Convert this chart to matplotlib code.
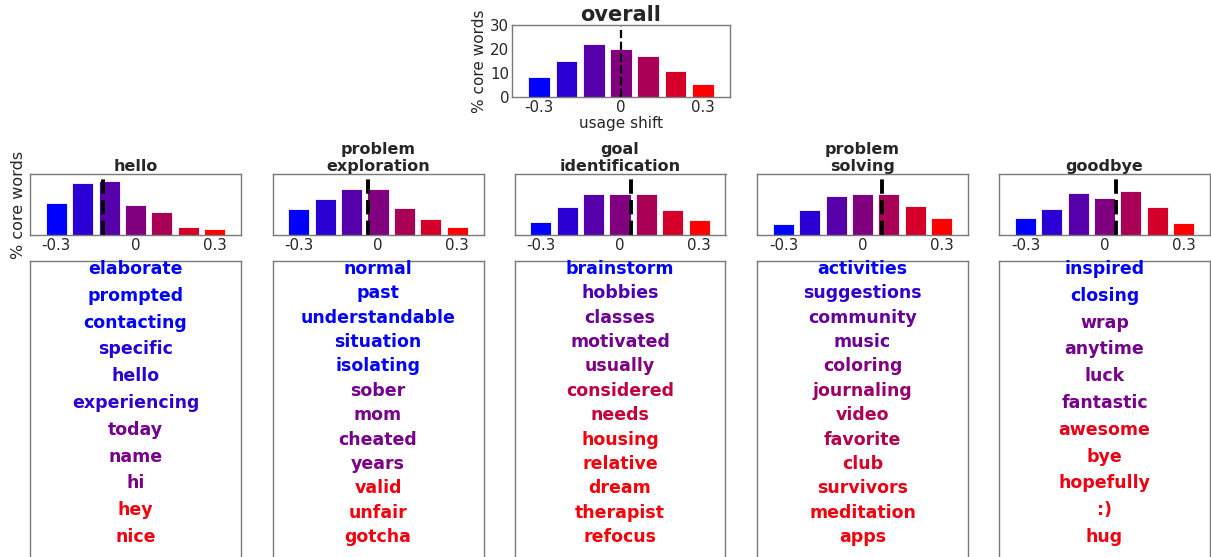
import matplotlib
matplotlib.use("Agg")
import matplotlib.pyplot as plt
import numpy as np

# ---------------- data ----------------
bin_centers = [-0.3, -0.2, -0.1, 0.0, 0.1, 0.2, 0.3]
tick_positions = [-0.3, 0.0, 0.3]
tick_labels = ["-0.3", "0", "0.3"]

overall_pct = [8.5, 15.2, 22.2, 20.1, 17.0, 11.0, 5.5]
overall_mean = 0.0

stage_titles = ["hello", "problem\nexploration", "goal\nidentification", "problem\nsolving", "goodbye"]

hello_pct = [15.9, 25.8, 26.7, 14.7, 11.4, 3.9, 2.8]
exploration_pct = [13.0, 17.6, 22.8, 22.6, 13.4, 7.7, 3.9]
goal_pct = [6.2, 13.6, 20.4, 20.0, 20.0, 12.4, 7.4]
solving_pct = [5.2, 12.4, 19.4, 20.3, 20.3, 14.4, 8.2]
goodbye_pct = [8.2, 12.7, 20.6, 18.3, 21.8, 13.6, 6.0]
stage_pcts = [hello_pct, exploration_pct, goal_pct, solving_pct, goodbye_pct]

stage_means = [-0.123, -0.038, 0.041, 0.075, 0.042]

hello_words = ["elaborate", "prompted", "contacting", "specific", "hello", "experiencing",
               "today", "name", "hi", "hey", "nice"]
hello_shifts = [-0.30, -0.30, -0.30, -0.21, -0.20, -0.19, -0.03, -0.02, -0.01, 0.27, 0.27]

exploration_words = ["normal", "past", "understandable", "situation", "isolating", "sober",
                     "mom", "cheated", "years", "valid", "unfair", "gotcha"]
exploration_shifts = [-0.30, -0.30, -0.30, -0.29, -0.29, -0.03, -0.02, -0.02, -0.01, 0.27, 0.27, 0.27]

goal_words = ["brainstorm", "hobbies", "classes", "motivated", "usually", "considered",
              "needs", "housing", "relative", "dream", "therapist", "refocus"]
goal_shifts = [-0.30, -0.12, -0.05, -0.03, 0.00, 0.15, 0.17, 0.27, 0.27, 0.28, 0.28, 0.28]

solving_words = ["activities", "suggestions", "community", "music", "coloring", "journaling",
                 "video", "favorite", "club", "survivors", "meditation", "apps"]
solving_shifts = [-0.30, -0.18, -0.06, -0.05, 0.00, 0.06, 0.11, 0.12, 0.21, 0.25, 0.27, 0.27]

goodbye_words = ["inspired", "closing", "wrap", "anytime", "luck", "fantastic",
                 "awesome", "bye", "hopefully", ":)", "hug"]
goodbye_shifts = [-0.30, -0.29, -0.03, -0.03, -0.02, -0.02, 0.24, 0.25, 0.26, 0.27, 0.27]

stage_words = [hello_words, exploration_words, goal_words, solving_words, goodbye_words]
stage_shifts = [hello_shifts, exploration_shifts, goal_shifts, solving_shifts, goodbye_shifts]

# ---------------- style ----------------
TEXT = "#262626"
SPINE = "#7a7a7a"
plt.rcParams["font.family"] = ["DejaVu Sans"]
plt.rcParams["axes.unicode_minus"] = False


def shift_color(s):
    t = (s + 0.3) / 0.6
    t = min(max(t, 0.0), 1.0)
    return (t, 0.0, 1.0 - t)


bar_colors = [shift_color(c) for c in bin_centers]

W, H = 1211, 557
fig = plt.figure(figsize=(W / 100, H / 100), dpi=100)


def px_axes(x0, y0, x1, y1):
    return fig.add_axes([x0 / W, (H - y1) / H, (x1 - x0) / W, (y1 - y0) / H])


def style_hist(ax):
    ax.set_xlim(-0.4, 0.4)
    ax.set_ylim(0, 30)
    ax.set_xticks(tick_positions)
    ax.set_xticklabels(tick_labels)
    ax.tick_params(axis="both", length=0, labelsize=10.8, labelcolor=TEXT, pad=2)
    for sp in ax.spines.values():
        sp.set_color(SPINE)
        sp.set_linewidth(1.0)


# overall
ax0 = px_axes(512, 25, 730, 97)
ax0.bar(bin_centers, overall_pct, width=0.08, color=bar_colors, edgecolor="white", linewidth=0.6)
ax0.axvline(overall_mean, color="black", linestyle="--", linewidth=1.6)
style_hist(ax0)
ax0.set_yticks([0, 10, 20, 30])
ax0.set_title("overall", fontsize=15, fontweight="bold", color=TEXT, pad=0)
ax0.set_xlabel("usage shift", fontsize=11, color=TEXT, labelpad=1)
ax0.set_ylabel("% core words", fontsize=11, color=TEXT, labelpad=2)

# stages
lefts = [30, 272.5, 514.5, 757, 999]
for i in range(5):
    x0 = lefts[i]
    x1 = x0 + 211
    ax = px_axes(x0, 174, x1, 235)
    ax.bar(bin_centers, stage_pcts[i], width=0.08, color=bar_colors, edgecolor="white", linewidth=0.6)
    ax.axvline(stage_means[i], color="black", linestyle="--", linewidth=2.8)
    style_hist(ax)
    ax.set_yticks([])
    ax.set_title(stage_titles[i], fontsize=11.5, fontweight="bold", color=TEXT, pad=1,
                 linespacing=1.15)
    if i == 0:
        ax.set_ylabel("% core words", fontsize=11.5, color=TEXT, labelpad=3)

    wax = px_axes(x0, 261, x1, 575)
    wax.set_xlim(0, 1)
    wax.set_ylim(575, 261)
    wax.set_xticks([])
    wax.set_yticks([])
    for sp in wax.spines.values():
        sp.set_color(SPINE)
        sp.set_linewidth(1.0)
    words = stage_words[i]
    shifts = stage_shifts[i]
    ys = np.linspace(269, 537, len(words))
    for w, s, y in zip(words, shifts, ys):
        wax.text(0.5, y, w, ha="center", va="center", fontsize=12.5, fontweight="bold",
                 color=shift_color(s))

fig.savefig("out.png", dpi=100)
